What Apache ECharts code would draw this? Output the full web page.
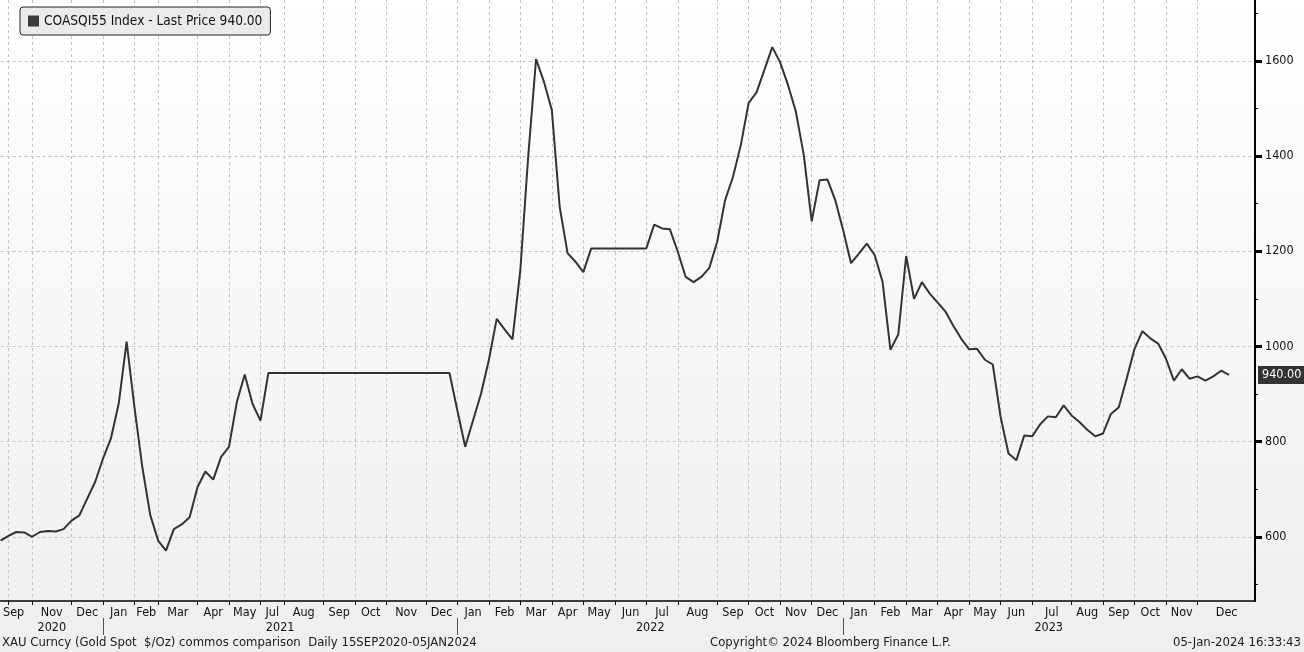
<!DOCTYPE html>
<html>
<head>
<meta charset="utf-8">
<script src="https://cdn.jsdelivr.net/npm/echarts@6/dist/echarts.min.js"></script>
<style>
html,body{margin:0;padding:0;background:#f2f2f2;}
#chart{width:1304px;height:652px;}
</style>
</head>
<body>
<div id="chart"></div>
<script>
// ---- data (one weekly observation per index) ----
const seriesName = 'COASQI55 Index';
const prices = [
  592, 602, 610, 609, 600, 610, 612, 611, 616, 634,
  645, 680, 715, 764, 806, 880, 1010, 872, 746, 646,
  592, 571, 616, 626, 641, 704, 737, 720, 768, 789,
  883, 941, 879, 844, 944, 944, 944, 944, 944, 944,
  944, 944, 944, 944, 944, 944, 944, 944, 944, 944,
  944, 944, 944, 944, 944, 944, 944, 944, 866, 789,
  845, 900, 971, 1058, 1036, 1015, 1160, 1399, 1604, 1556,
  1497, 1293, 1196, 1178, 1156, 1206, 1206, 1206, 1206, 1206,
  1206, 1206, 1206, 1256, 1248, 1246, 1199, 1146, 1135, 1146,
  1165, 1220, 1307, 1356, 1423, 1512, 1534, 1581, 1629, 1597,
  1549, 1493, 1402, 1263, 1349, 1351, 1307, 1244, 1175, 1195,
  1216, 1192, 1136, 993, 1025, 1190, 1100, 1135, 1111, 1092,
  1073, 1043, 1016, 994, 995, 972, 962, 851, 775, 761,
  813, 811, 836, 853, 851, 876, 855, 841, 825, 811,
  817, 858, 872, 932, 995, 1032, 1017, 1006, 974, 928,
  952, 932, 937, 928, 937, 949, 940
];
// month boundaries (observation index where each month starts)
const monthTicks = [1, 4, 9, 13, 17, 20, 25, 29, 33, 36, 41, 45, 49, 54, 58, 62, 66, 70, 74, 78,
  82, 86, 91, 95, 99, 103, 107, 111, 115, 119, 123, 127, 131, 136, 140, 144, 148, 152];
const monthLabels = ['Sep','Nov','Dec','Jan','Feb','Mar','Apr','May','Jul','Aug','Sep','Oct','Nov','Dec',
  'Jan','Feb','Mar','Apr','May','Jun','Jul','Aug','Sep','Oct','Nov','Dec',
  'Jan','Feb','Mar','Apr','May','Jun','Jul','Aug','Sep','Oct','Nov','Dec'];
const monthLabelAt = [1.65, 6.5, 11, 15, 18.5, 22.5, 27, 31, 34.5, 38.5, 43, 47, 51.5, 56,
  60, 64, 68, 72, 76, 80, 84, 88.5, 93, 97, 101, 105,
  109, 113, 117, 121, 125, 129, 133.5, 138, 142, 146, 150, 155.7];
const yearTicks = [13, 58, 107];
const yearLabels = ['2020', '2021', '2022', '2023'];
const yearLabelAt = [6.5, 35.5, 82.5, 133.1];
const yMajor = [600, 800, 1000, 1200, 1400, 1600];
const yMinor = [500, 700, 900, 1100, 1300, 1500, 1700];
const footLeft = 'XAU Curncy (Gold Spot  $/Oz) commos comparison  Daily 15SEP2020-05JAN2024';
const footMid = 'Copyright\u00A9 2024 Bloomberg Finance L.P.';
const footRight = '05-Jan-2024 16:33:43';

// ---- chart ----
const FONT = "'DejaVu Sans Condensed','DejaVu Sans','Liberation Sans',sans-serif";
const last = prices[prices.length - 1];
const lineData = prices.map((v, i) => [i, v]);
const monthMap = new Map(monthLabelAt.map((p, i) => [p, monthLabels[i]]));
const yearMap = new Map(yearLabelAt.map((p, i) => [p, yearLabels[i]]));
const X_MIN = 0, X_MAX = 159.3, Y_MIN = 465, Y_MAX = 1728;
const gridDash = {color: '#bfc3d0', type: [3, 3], width: 1};
const footStyle = {fontSize: 13, fontWeight: 'normal', color: '#1a1a1a', fontFamily: FONT, lineHeight: 15};

const chart = echarts.init(document.getElementById('chart'), null, {renderer: 'canvas'});
chart.setOption({
  animation: false,
  backgroundColor: new echarts.graphic.LinearGradient(0, 0, 0, 1, [
    {offset: 0, color: '#ffffff'},
    {offset: 0.2, color: '#fcfcfc'},
    {offset: 1, color: '#efefef'}
  ]),
  textStyle: {fontFamily: FONT},
  title: [
    {text: footLeft, left: 2, top: 635, padding: 0, textStyle: footStyle},
    {text: footMid, left: 710, top: 635, padding: 0, textStyle: footStyle},
    {text: footRight, right: 3, top: 635, padding: 0, textStyle: footStyle}
  ],
  legend: {
    left: 20, top: 7,
    padding: [7, 8, 7, 8],
    backgroundColor: '#ebebeb',
    borderColor: '#222',
    borderWidth: 1,
    borderRadius: 3,
    icon: 'rect',
    itemWidth: 11, itemHeight: 11, itemGap: 5,
    textStyle: {fontSize: 13.6, color: '#111', fontFamily: FONT},
    formatter: name => name + ' - Last Price ' + last.toFixed(2),
    data: [seriesName]
  },
  grid: {left: 0, right: 49, top: 0, bottom: 51, containLabel: false},
  xAxis: [
    {
      type: 'value', min: X_MIN, max: X_MAX, position: 'bottom',
      axisLine: {show: true, onZero: false, lineStyle: {color: '#000', width: 1.5}},
      axisTick: {show: true, inside: false, length: 4, customValues: monthTicks, lineStyle: {color: '#000', width: 1}},
      axisLabel: {show: true, customValues: monthLabelAt, margin: 5, fontSize: 12.5, color: '#111', fontFamily: FONT,
        formatter: v => monthMap.get(v) || ''},
      splitLine: {show: true, lineStyle: gridDash}
    },
    {
      type: 'value', min: X_MIN, max: X_MAX, position: 'bottom', offset: 17,
      axisLine: {show: false, onZero: false},
      axisTick: {show: true, inside: false, length: 17, customValues: yearTicks, lineStyle: {color: '#555', width: 1}},
      axisLabel: {show: true, customValues: yearLabelAt, margin: 3, fontSize: 12.5, color: '#111', fontFamily: FONT,
        formatter: v => yearMap.get(v) || ''},
      splitLine: {show: false}
    }
  ],
  yAxis: [
    {
      type: 'value', min: Y_MIN, max: Y_MAX, position: 'right',
      axisLine: {show: true, onZero: false, lineStyle: {color: '#000', width: 2}},
      axisTick: {show: true, inside: false, length: 7, customValues: yMajor, lineStyle: {color: '#000', width: 3}},
      axisLabel: {show: true, customValues: yMajor, margin: 10, fontSize: 12.5, color: '#111', fontFamily: FONT,
        formatter: v => String(v)},
      splitLine: {show: true, lineStyle: gridDash}
    },
    {
      type: 'value', min: Y_MIN, max: Y_MAX, position: 'right',
      axisLine: {show: false, onZero: false},
      axisTick: {show: true, inside: false, length: 3, customValues: yMinor, lineStyle: {color: '#000', width: 1}},
      axisLabel: {show: false},
      splitLine: {show: false}
    }
  ],
  series: [{
    name: seriesName,
    type: 'line',
    xAxisIndex: 0, yAxisIndex: 0,
    data: lineData,
    showSymbol: false,
    symbol: 'none',
    color: '#3a3a3a',
    lineStyle: {color: '#333', width: 2},
    markLine: {
      silent: true,
      symbol: ['none', 'none'],
      lineStyle: {width: 0, color: 'rgba(0,0,0,0)'},
      label: {
        show: true, position: 'end', distance: 3,
        formatter: () => last.toFixed(2),
        backgroundColor: '#333', color: '#fff', fontSize: 12.5, fontFamily: FONT,
        padding: [3, 3, 2, 4]
      },
      data: [{yAxis: last}]
    }
  }]
});
</script>
</body>
</html>
